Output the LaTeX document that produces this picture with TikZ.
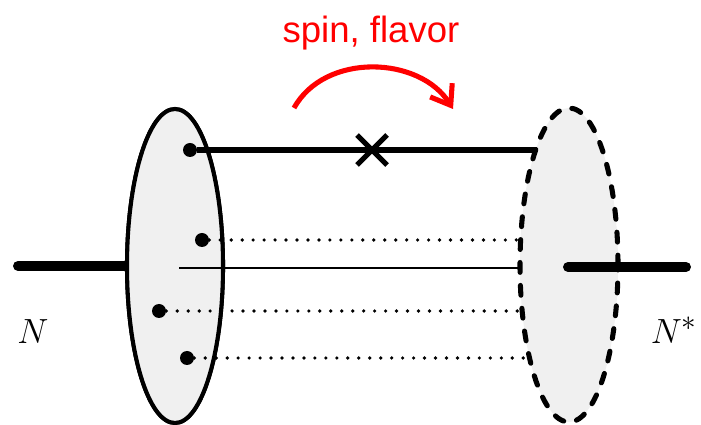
\documentclass[tikz,border=0pt]{standalone}
\usepackage{fontspec}
\setsansfont{Liberation Sans}
\usepackage{tikz}
\usetikzlibrary{shapes.geometric, arrows.meta}
\definecolor{cBlob}{RGB}{240,240,240}
\definecolor{cRed}{RGB}{255,0,0}
\tikzset{
	blob/.style={ellipse, minimum width=24mm, minimum height=78.5mm, inner sep=0pt, draw=black, line width=2.9pt, fill=cBlob},
	blobfill/.style={ellipse, minimum width=24.5mm, minimum height=78.5mm, inner sep=0pt, fill=cBlob},
	blobdash/.style={ellipse, minimum width=24.5mm, minimum height=78.5mm, inner sep=0pt, draw=black, line width=3.6pt, line cap=round, dash pattern=on 7pt off 9.3pt},
	hadron/.style={line width=7.1pt, line cap=round},
	qdot/.style={circle, fill=black, minimum size=3.5mm, inner sep=0pt},
	activeq/.style={line width=4.4pt},
	spectq/.style={line width=2.6pt, line cap=round, dash pattern=on 0pt off 7.8pt},
	thinq/.style={line width=1.5pt},
	flip/.style={-{Straight Barb[length=4.5mm, width=6.5mm]}, line width=3.6pt, draw=cRed},
}

\begin{document}
\begin{tikzpicture}[x=0.25mm, y=-0.25mm]
	\useasboundingbox (0,0) rectangle (701,425);
	% incoming nucleon
	\coordinate (inL) at (18,266);
	\node[blob] (Nin) at (175,266) {};
	\draw[hadron] (inL) -- (Nin.west);
	\node[blob] (Nin) at (175,266) {};
	% quarks
	\node[qdot] (q1) at (190,150) {};
	\node[qdot] (q2) at (202,240) {};
	\node[qdot] (q3) at (159,311) {};
	\node[qdot] (q4) at (187,358) {};
	\coordinate (e1) at (545,150);
	\coordinate (e2) at (528,240);
	\coordinate (g0) at (179,268);
	\coordinate (g1) at (528,268);
	\coordinate (e3) at (528,311);
	\coordinate (e4) at (535,358);
	\draw[activeq] (q1) -- (e1);
	\draw[spectq] (q2) -- (e2);
	\draw[thinq] (g0) -- (g1);
	\draw[spectq] (q3) -- (e3);
	\draw[spectq] (q4) -- (e4);
	% vertex on the struck quark
	\node[inner sep=0pt, minimum size=0pt] (vx) at (372,150) {};
	\draw[line width=3.6pt] ([shift={(-15,-15)}]vx.center) -- ([shift={(15,15)}]vx.center)
		([shift={(-15,15)}]vx.center) -- ([shift={(15,-15)}]vx.center);
	% outgoing resonance
	\node[blobfill] (Nout) at (569,265) {};
	\coordinate (outR) at (686,267);
	\draw[hadron] ([xshift=-0.25mm, yshift=-0.5mm]Nout.center) -- (outR);
	\node[blobdash] at (Nout) {};
	% labels
	\node[font=\fontsize{31}{36}\selectfont] (labN) at (33,332) {$N$};
	\node[font=\fontsize{31}{36}\selectfont] (labNs) at (674,330) {$N^*$};
	\node[font=\sffamily\fontsize{26}{30}\selectfont, text=cRed] (labsf) at (371,33) {spin, flavor};
	\coordinate (a0) at (294,108);
	\coordinate (a1) at (453,109);
	\draw[flip] (a0) .. controls (325,52) and (420,56) .. (a1);
\end{tikzpicture}
\end{document}
